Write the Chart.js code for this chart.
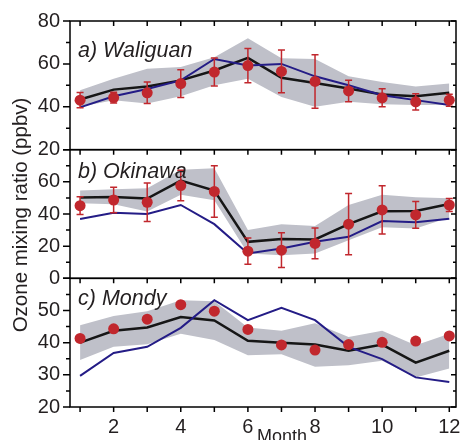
<!DOCTYPE html>
<html>
<head>
<meta charset="utf-8">
<script src="https://cdn.jsdelivr.net/npm/chart.js@4.4.1/dist/chart.umd.min.js"></script>
<style>
  html, body { margin: 0; padding: 0; background: #fff; }
  #wrap { position: relative; width: 462px; height: 440px; }
</style>
</head>
<body>
<div id="wrap"><canvas id="ozoneChart"></canvas></div>
<script>
// --- Data (ppbv) ---
const months = [1, 2, 3, 4, 5, 6, 7, 8, 9, 10, 11, 12];
const xTickLabels = [2, 4, 6, 8, 10, 12];

// a) Waliguan
const obsA   = [43.1, 44.3, 46.5, 50.8, 56.2, 59.2, 56.5, 51.8, 47.4, 44.2, 42.3, 43.1];
const errA   = [3.6, 2.5, 5, 6.5, 6.5, 8, 10, 12.5, 5, 4.2, 3.8, 2.8];
const meanA  = [43.4, 48, 49.5, 52.3, 56.9, 62.8, 53.5, 51.1, 48.5, 45.7, 44.9, 46.5];
const blueA  = [39.7, 44.9, 48.3, 52.3, 62.3, 59.2, 60, 54.2, 50, 45.4, 43.1, 40.8];
const hiA    = [47.7, 53.1, 57.7, 58.5, 63.1, 72, 62.6, 62.3, 54.2, 51.5, 49.5, 50.8];
const loA    = [40, 43.1, 41.5, 44.9, 50, 53.1, 44.6, 40, 42.3, 41.2, 40.8, 40.8];
const yTicksA = [20, 40, 60, 80];

// b) Okinawa
const obsB   = [45.2, 48.7, 47.3, 57.7, 54, 16.9, 17.5, 21.7, 33.7, 42.5, 39.4, 45.6];
const errB   = [5.5, 8, 12, 9.5, 16, 8.2, 10.8, 9.6, 19, 15, 8.3, 4];
const meanB  = [50.2, 50.6, 49.6, 60.8, 54.6, 22.7, 24.4, 24.2, 33.7, 41.7, 41.9, 46.2];
const blueB  = [36.9, 40.8, 40, 45.6, 33.7, 15.4, 18.5, 22.7, 25.8, 35.6, 34.8, 37.1];
const hiB    = [54.6, 55.4, 56, 67.5, 68.5, 30, 33.7, 32.5, 45.6, 51.9, 50.4, 49.8];
const loB    = [46.7, 46, 41.5, 51.9, 48.5, 15.4, 14.4, 15.4, 23.7, 31.7, 31, 37.9];
const yTicksB = [0, 20, 40, 60];

// c) Mondy (no error bars)
const obsC   = [41.3, 44.3, 47.3, 51.8, 49.8, 44.1, 39.3, 37.7, 39.4, 40.1, 40.5, 42.1];
const meanC  = [40, 43.7, 44.7, 48, 46.9, 40.6, 40, 39.4, 37.5, 39.4, 33.8, 37.5];
const blueC  = [29.7, 36.8, 38.7, 44.6, 53.2, 47, 50.8, 47, 38.7, 34.9, 29.2, 27.8];
const hiC    = [45.4, 48.3, 49.8, 53.2, 52.9, 44.7, 43.7, 46, 41.8, 43.7, 39.2, 42.8];
const loC    = [34.6, 38.7, 39.5, 42.8, 40.8, 36.1, 36.4, 32.5, 33, 34.4, 29.2, 32];
const yTicksC = [20, 30, 40, 50];

// --- Styles ---
const FONT = "'Liberation Sans', Arial, sans-serif";
const TXT = '#231f20';
const BAND = '#bfc0c9';
const BLACK = '#161616';
const BLUE = '#241c86';
const RED = '#c1272d';

const panels = [
  { id: 'yA', title: 'a) Waliguan', min: 20, max: 80, step: 20, minor: 10, ticks: yTicksA, titleDy: 36,
    obs: obsA, err: errA, mean: meanA, blue: blueA, hi: hiA, lo: loA },
  { id: 'yB', title: 'b) Okinawa', min: 0, max: 80, step: 20, minor: 10, ticks: yTicksB, titleDy: 28,
    obs: obsB, err: errB, mean: meanB, blue: blueB, hi: hiB, lo: loB },
  { id: 'yC', title: 'c) Mondy', min: 20, max: 60, step: 10, minor: 5, ticks: yTicksC, titleDy: 27,
    obs: obsC, err: null, mean: meanC, blue: blueC, hi: hiC, lo: loC }
];

const pts = arr => arr.map((v, i) => ({ x: months[i], y: v }));

const datasets = [];
panels.forEach(p => {
  datasets.push({ data: pts(p.hi), yAxisID: p.id, borderWidth: 0, pointRadius: 0, fill: '+1', backgroundColor: BAND, order: 10 });
  datasets.push({ data: pts(p.lo), yAxisID: p.id, borderWidth: 0, pointRadius: 0, fill: false, order: 10 });
  datasets.push({ data: pts(p.mean), yAxisID: p.id, borderColor: BLACK, borderWidth: 2.5, pointRadius: 0, fill: false, order: 4 });
  datasets.push({ data: pts(p.blue), yAxisID: p.id, borderColor: BLUE, borderWidth: 2, pointRadius: 0, fill: false, order: 3 });
  datasets.push({ data: pts(p.obs), yAxisID: p.id, showLine: false, pointRadius: 5.5, pointBackgroundColor: RED,
    pointBorderWidth: 0, errors: p.err, order: 1 });
});

// y scales: last defined is placed on top of the left stack
const scales = {
  x: {
    type: 'linear', min: 0.7, max: 12.2,
    grid: { display: false, drawTicks: false }, border: { display: false },
    afterBuildTicks: s => { s.ticks = months.map(v => ({ value: v })); },
    afterFit: s => { s.height = 33; s.paddingLeft = 0; s.paddingRight = 0; },
    ticks: { autoSkip: false, maxRotation: 0, padding: 8, color: TXT, font: { family: FONT, size: 20 },
      callback: v => xTickLabels.includes(v) ? String(v) : '' }
  }
};
panels.slice().reverse().forEach(p => {
  scales[p.id] = {
    type: 'linear', position: 'left', stack: 'panels', stackWeight: 1, min: p.min, max: p.max,
    grid: { display: false, drawTicks: false }, border: { display: false },
    afterBuildTicks: s => { s.ticks = p.ticks.map(v => ({ value: v })); },
    afterFit: s => { s.width = 70; s.paddingTop = 0; s.paddingBottom = 0; },
    ticks: { autoSkip: false, padding: 10, color: TXT, font: { family: FONT, size: 20 } }
  };
});

const panelFrame = {
  id: 'panelFrame',
  beforeDatasetDraw(chart, args) {
    const ds = chart.data.datasets[args.index];
    if (!ds.errors) return;
    const ctx = chart.ctx, xs = chart.scales.x, ys = chart.scales[ds.yAxisID];
    ctx.save();
    ctx.strokeStyle = RED;
    ctx.lineWidth = 1.5;
    ds.data.forEach((p, i) => {
      const px = xs.getPixelForValue(p.x);
      const top = ys.getPixelForValue(p.y + ds.errors[i]);
      const bot = ys.getPixelForValue(p.y - ds.errors[i]);
      ctx.beginPath();
      ctx.moveTo(px, top); ctx.lineTo(px, bot);
      ctx.moveTo(px - 3.5, top); ctx.lineTo(px + 3.5, top);
      ctx.moveTo(px - 3.5, bot); ctx.lineTo(px + 3.5, bot);
      ctx.stroke();
    });
    ctx.restore();
  },
  afterDraw(chart) {
    const ctx = chart.ctx, area = chart.chartArea, xs = chart.scales.x;
    ctx.save();
    ctx.strokeStyle = '#000';
    ctx.lineWidth = 1.5;
    panels.forEach((p, k) => {
      const s = chart.scales[p.id];
      ctx.strokeRect(area.left, s.top, area.right - area.left, s.bottom - s.top);
      ctx.beginPath();
      for (let v = p.min; v <= p.max; v += p.minor) {
        const py = s.getPixelForValue(v);
        const major = (v - p.min) % p.step === 0;
        ctx.moveTo(area.left - (major ? 7 : 4), py); ctx.lineTo(area.left, py);
        ctx.moveTo(area.right - (major ? 5 : 3), py); ctx.lineTo(area.right, py);
      }
      months.forEach(m => {
        const px = xs.getPixelForValue(m);
        ctx.moveTo(px, s.top); ctx.lineTo(px, s.top + 5);
        if (k === panels.length - 1) { ctx.moveTo(px, s.bottom); ctx.lineTo(px, s.bottom + 5); }
      });
      ctx.stroke();

      ctx.fillStyle = TXT;
      ctx.font = 'italic 21.5px ' + FONT;
      ctx.textAlign = 'left';
      ctx.textBaseline = 'alphabetic';
      ctx.fillText(p.title, 78, s.top + p.titleDy);
    });

    ctx.font = '20.5px ' + FONT;
    ctx.textAlign = 'center';
    ctx.textBaseline = 'middle';
    ctx.translate(21, 215);
    ctx.rotate(-Math.PI / 2);
    ctx.fillText('Ozone mixing ratio (ppbv)', 0, 0);
    ctx.setTransform(1, 0, 0, 1, 0, 0);

    ctx.font = '18px ' + FONT;
    ctx.textBaseline = 'alphabetic';
    ctx.fillText('Month', 282, 442);
    ctx.restore();
  }
};

new Chart(document.getElementById('ozoneChart'), {
  type: 'line',
  data: { datasets },
  options: {
    responsive: true,
    maintainAspectRatio: false,
    animation: false,
    layout: { padding: { top: 21, right: 6, left: 0, bottom: 0 } },
    plugins: { legend: { display: false }, tooltip: { enabled: false } },
    scales
  },
  plugins: [panelFrame]
});
</script>
</body>
</html>
